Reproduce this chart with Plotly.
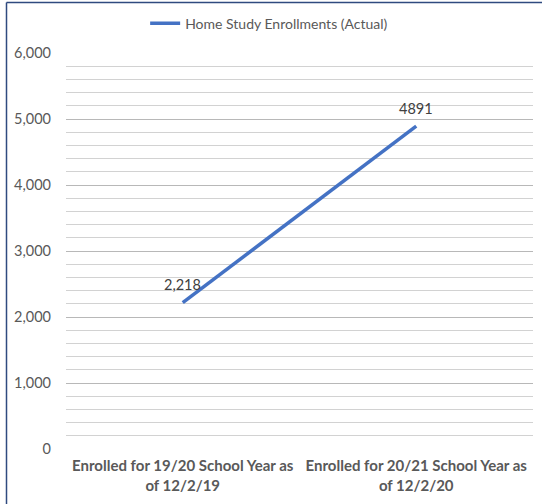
import plotly.graph_objects as go

categories = ["Enrolled for 19/20 School Year as<br>of 12/2/19",
              "Enrolled for 20/21 School Year as<br>of 12/2/20"]
values = [2218, 4891]
value_labels = ["2,218", "4891"]
series_name = "Home Study Enrollments (Actual)"
y_ticks = [0, 1000, 2000, 3000, 4000, 5000, 6000]
y_tick_labels = ["0", "1,000", "2,000", "3,000", "4,000", "5,000", "6,000"]

FONT = "Lato"
GRAY = "#595959"

fig = go.Figure()
fig.add_trace(go.Scatter(
    x=[0, 1], y=values, mode="lines", name=series_name,
    line=dict(color="#4472C4", width=3.5),
    showlegend=True,
))
for i, (v, lab) in enumerate(zip(values, value_labels)):
    fig.add_annotation(x=i, y=v, text=lab, showarrow=False, yshift=18,
                       font=dict(family=FONT, size=14.5, color="#404040"))

W, H = 542, 504
l, r, t, b = 66, 9, 53, 55
fig.update_layout(
    width=W, height=H,
    margin=dict(l=l, r=r, t=t, b=b, autoexpand=False),
    paper_bgcolor="white", plot_bgcolor="white",
    font=dict(family=FONT, color=GRAY, size=14),
    showlegend=True,
    legend=dict(orientation="h", x=0.435, xanchor="center", y=0.985, yref="container",
                yanchor="top", font=dict(family=FONT, size=14, color=GRAY),
                itemwidth=30, bgcolor="rgba(0,0,0,0)"),
    xaxis=dict(range=[-0.5, 1.5], tickvals=[0, 1], ticktext=["<b>%s</b>" % c for c in categories],
               showgrid=False, zeroline=False, showline=False, ticks="", ticklabelstandoff=6,
               tickfont=dict(family=FONT, size=15, color=GRAY), fixedrange=True),
    yaxis=dict(range=[0, 6000], tickvals=y_ticks, ticktext=y_tick_labels,
               showgrid=True, gridcolor="#B8B8B8", gridwidth=1.3,
               zeroline=False, showline=False, ticks="", ticklabelstandoff=14,
               tickfont=dict(family=FONT, size=14.5, color=GRAY),
               minor=dict(dtick=200, showgrid=True, gridcolor="#D2D2D2", gridwidth=1)),
)

pw = W - l - r
ph = H - t - b
def px_x(x):
    return (x - l) / pw
def px_y(y):
    return (H - b - y) / ph

# frame lines (top and left)
fig.add_shape(type="line", xref="paper", yref="paper",
              x0=px_x(6.5), x1=px_x(W + 5), y0=px_y(2.5), y1=px_y(2.5),
              line=dict(color="#2F4A7F", width=1.5))
fig.add_shape(type="line", xref="paper", yref="paper",
              x0=px_x(6.5), x1=px_x(6.5), y0=px_y(2.5), y1=px_y(H + 5),
              line=dict(color="#2F4A7F", width=1.5))

fig.write_html("out.html")
